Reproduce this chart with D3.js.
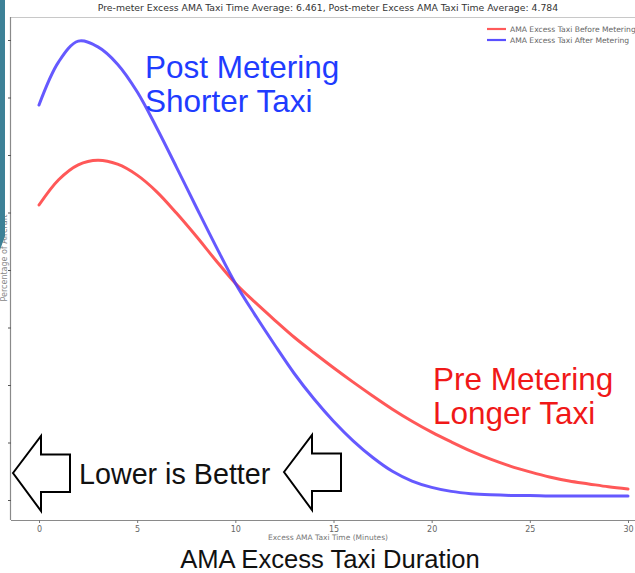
<!DOCTYPE html>
<html>
<head>
<meta charset="utf-8">
<script src="https://cdn.jsdelivr.net/npm/d3@7"></script>
<style>
  body { margin: 0; background: #fff; }
  svg { display: block; }
</style>
</head>
<body>
<svg id="chart" width="635" height="573"></svg>
<script>
// Excess AMA taxi time distribution, minutes 0..30 (percentage of aircraft)
const minutes = d3.range(0, 31);
const preMetering = [5.13, 5.57, 5.83, 5.91, 5.84, 5.65, 5.36, 4.99, 4.59, 4.17,
                     3.77, 3.44, 3.13, 2.83, 2.56, 2.30, 2.05, 1.81, 1.58, 1.37,
                     1.18, 1.01, 0.85, 0.71, 0.59, 0.49, 0.40, 0.33, 0.28, 0.23, 0.19];
const postMetering = [6.87, 7.62, 7.98, 7.88, 7.58, 7.10, 6.47, 5.79, 5.10, 4.42,
                      3.77, 3.22, 2.70, 2.20, 1.76, 1.37, 1.03, 0.74, 0.50, 0.33,
                      0.22, 0.15, 0.11, 0.09, 0.08, 0.08, 0.07, 0.07, 0.07, 0.07, 0.07];
const seriesNames = ["AMA Excess Taxi Before Metering", "AMA Excess Taxi After Metering"];
const xTicks = [0, 5, 10, 15, 20, 25, 30];
const yTicks = [0, 1, 2, 3, 4, 5, 6, 7, 8];
const titleText = "Pre-meter Excess AMA Taxi Time Average: 6.461, Post-meter Excess AMA Taxi Time Average: 4.784";
const xLabel = "Excess AMA Taxi Time (Minutes)";
const yLabel = "Percentage of Aircraft";
const caption = "AMA Excess Taxi Duration";

const svg = d3.select("#chart");
const W = 635, H = 573;
const frame = { left: 11, top: 17, bottom: 520, right: 640 };

const x = d3.scaleLinear().domain([0, 30]).range([39, 628]);
const y = d3.scaleLinear().domain([0, 8]).range([500, 40]);

svg.append("rect").attr("width", W).attr("height", H).attr("fill", "#fff");

// plot frame
svg.append("line").attr("x1", frame.left).attr("x2", frame.right)
  .attr("y1", frame.top + 0.5).attr("y2", frame.top + 0.5)
  .attr("stroke", "#c8c8c8").attr("stroke-width", 1);
svg.append("line").attr("x1", frame.left - 0.5).attr("x2", frame.left - 0.5)
  .attr("y1", frame.top).attr("y2", frame.bottom)
  .attr("stroke", "#8a8a8a").attr("stroke-width", 1.2);
svg.append("line").attr("x1", frame.left).attr("x2", frame.right)
  .attr("y1", frame.bottom + 0.5).attr("y2", frame.bottom + 0.5)
  .attr("stroke", "#8a8a8a").attr("stroke-width", 1.2);

// x axis
const xAxis = svg.append("g")
  .attr("transform", `translate(0,${frame.bottom})`)
  .call(d3.axisBottom(x).tickValues(xTicks).tickSize(3).tickSizeOuter(0).tickPadding(3));
xAxis.select(".domain").remove();
xAxis.selectAll("line").attr("stroke", "#777");
xAxis.selectAll("text").attr("fill", "#666").attr("font-family", "DejaVu Sans")
  .attr("font-size", 8);

// y axis (labels fall outside the visible page)
const yAxis = svg.append("g")
  .attr("transform", `translate(${frame.left},0)`)
  .call(d3.axisLeft(y).tickValues(yTicks).tickSize(3).tickSizeOuter(0).tickFormat(""));
yAxis.select(".domain").remove();
yAxis.selectAll("line").attr("stroke", "#555");

// axis labels and title
svg.append("text").attr("x", 328).attr("y", 540)
  .attr("text-anchor", "middle").attr("font-family", "DejaVu Sans")
  .attr("font-size", 7.5).attr("fill", "#777").text(xLabel);

svg.append("text").attr("transform", "translate(7,258) rotate(-90)")
  .attr("text-anchor", "middle").attr("font-family", "DejaVu Sans")
  .attr("font-size", 8).attr("fill", "#888").text(yLabel);

svg.append("text").attr("x", 328).attr("y", 11)
  .attr("text-anchor", "middle").attr("font-family", "DejaVu Sans")
  .attr("font-size", 9.3).attr("fill", "#333").text(titleText);

// distribution curves
const line = (vals) => d3.line()
  .x((d, i) => x(minutes[i]))
  .y(d => y(d))
  .curve(d3.curveCatmullRom.alpha(0.5))(vals);

svg.append("path").attr("d", line(preMetering))
  .attr("fill", "none").attr("stroke", "#ff3b3b").attr("stroke-opacity", 0.85)
  .attr("stroke-width", 3).attr("stroke-linecap", "round");
svg.append("path").attr("d", line(postMetering))
  .attr("fill", "none").attr("stroke", "#4a3cff").attr("stroke-opacity", 0.85)
  .attr("stroke-width", 3).attr("stroke-linecap", "round");

// legend
const legendColors = ["#ff5a5a", "#5a50ff"];
seriesNames.forEach((name, i) => {
  const ly = 29 + i * 11;
  svg.append("line").attr("x1", 487).attr("x2", 506).attr("y1", ly).attr("y2", ly)
    .attr("stroke", legendColors[i]).attr("stroke-width", 2.2);
  svg.append("text").attr("x", 510).attr("y", ly + 3)
    .attr("font-family", "DejaVu Sans").attr("font-size", 7.6)
    .attr("fill", "#666").text(name);
});

// annotations
const ann = svg.append("g").attr("font-family", "Liberation Sans, Arial, sans-serif");
ann.append("text").attr("x", 145).attr("y", 78).attr("font-size", 31.5)
  .attr("fill", "#1f3cff").text("Post Metering");
ann.append("text").attr("x", 145).attr("y", 112).attr("font-size", 31.5)
  .attr("fill", "#1f3cff").text("Shorter Taxi");
ann.append("text").attr("x", 433).attr("y", 390).attr("font-size", 31.5)
  .attr("fill", "#f01818").text("Pre Metering");
ann.append("text").attr("x", 433).attr("y", 424).attr("font-size", 31.5)
  .attr("fill", "#f01818").text("Longer Taxi");
ann.append("text").attr("x", 79).attr("y", 484).attr("font-size", 28.7)
  .attr("fill", "#111").text("Lower is Better");

// outlined left-pointing arrows
const arrowShape = (tipX, cy) => {
  const p = [[0, 0], [28, -37], [28, -18.5], [57, -18.5], [57, 19], [28, 19], [28, 38]];
  return p.map(([dx, dy]) => [tipX + dx, cy + dy]);
};
[[13, 473], [284, 472]].forEach(([tx, cy]) => {
  svg.append("polygon")
    .attr("points", arrowShape(tx, cy).map(d => d.join(",")).join(" "))
    .attr("fill", "#fff").attr("stroke", "#000").attr("stroke-width", 2)
    .attr("stroke-linejoin", "miter");
});

// bottom caption
svg.append("text").attr("x", 330).attr("y", 568).attr("text-anchor", "middle")
  .attr("font-family", "Liberation Sans, Arial, sans-serif").attr("font-size", 25.6)
  .attr("fill", "#111").text(caption);

// teal side strip
svg.append("polygon")
  .attr("points", "0,0 5,0 5,236 0,250")
  .attr("fill", "#3d8197");
</script>
</body>
</html>
